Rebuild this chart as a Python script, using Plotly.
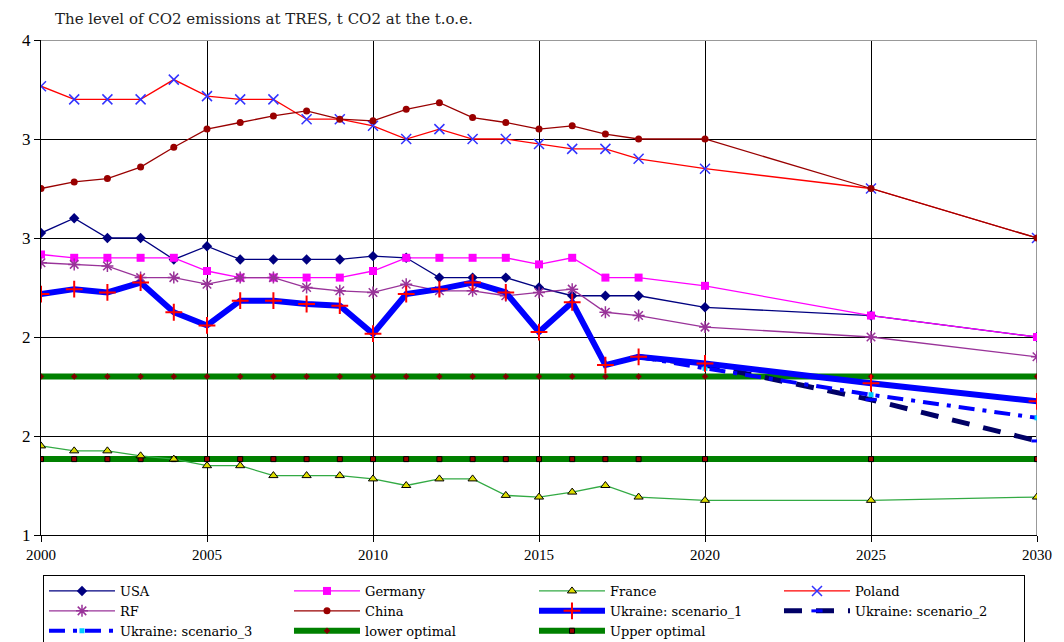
import plotly.graph_objects as go

years = [2000, 2001, 2002, 2003, 2004, 2005, 2006, 2007, 2008, 2009, 2010,
         2011, 2012, 2013, 2014, 2015, 2016, 2017, 2018, 2020, 2025, 2030]

usa = [2.83, 2.92, 2.80, 2.80, 2.67, 2.75, 2.67, 2.67, 2.67, 2.67, 2.69,
       2.68, 2.56, 2.56, 2.56, 2.50, 2.45, 2.45, 2.45, 2.38, 2.33, 2.20]
germany = [2.70, 2.68, 2.68, 2.68, 2.68, 2.60, 2.56, 2.56, 2.56, 2.56, 2.60,
           2.68, 2.68, 2.68, 2.68, 2.64, 2.68, 2.56, 2.56, 2.51, 2.33, 2.20]
france = [1.54, 1.51, 1.51, 1.48, 1.46, 1.42, 1.42, 1.36, 1.36, 1.36, 1.34,
          1.30, 1.34, 1.34, 1.24, 1.23, 1.26, 1.30, 1.23, 1.21, 1.21, 1.23]
poland = [3.72, 3.64, 3.64, 3.64, 3.76, 3.66, 3.64, 3.64, 3.52, 3.52, 3.48,
          3.40, 3.46, 3.40, 3.40, 3.37, 3.34, 3.34, 3.28, 3.22, 3.10, 2.80]
rf = [2.65, 2.64, 2.63, 2.56, 2.56, 2.52, 2.56, 2.56, 2.50, 2.48, 2.47,
      2.52, 2.48, 2.48, 2.45, 2.47, 2.49, 2.35, 2.33, 2.26, 2.20, 2.08]
china = [3.10, 3.14, 3.16, 3.23, 3.35, 3.46, 3.50, 3.54, 3.57, 3.52, 3.51,
         3.58, 3.62, 3.53, 3.50, 3.46, 3.48, 3.43, 3.40, 3.40, 3.10, 2.80]
ukr_s1 = [2.46, 2.49, 2.47, 2.53, 2.35, 2.27, 2.42, 2.42, 2.40, 2.39, 2.22,
          2.46, 2.49, 2.53, 2.47, 2.23, 2.41, 2.03, 2.08, 2.04, 1.92, 1.81]

scen_years = [2018, 2020, 2025, 2030]
ukr_s2 = [2.08, 2.03, 1.82, 1.57]
ukr_s3 = [2.08, 2.01, 1.85, 1.71]

lower_opt = [1.96] * len(years)
upper_opt = [1.46] * len(years)

y_ticks = [1, 1.6, 2.2, 2.8, 3.4, 4]
y_labels = ["1", "2", "2", "3", "3", "4"]

serif = "Liberation Serif"
wide_serif = "DejaVu Serif"

fig = go.Figure()

# optimal bands first so they sit under the country lines
fig.add_trace(go.Scatter(x=years, y=lower_opt, name="lower optimal", mode="lines+markers",
                         line=dict(color="#008000", width=6),
                         marker=dict(symbol="diamond", size=5, color="#800000"),
                         legendrank=10))
fig.add_trace(go.Scatter(x=years, y=upper_opt, name="Upper optimal", mode="lines+markers",
                         line=dict(color="#008000", width=6),
                         marker=dict(symbol="square", size=5, color="#990000",
                                     line=dict(color="black", width=1)),
                         legendrank=11))

fig.add_trace(go.Scatter(x=years, y=usa, name="USA", mode="lines+markers",
                         line=dict(color="#000080", width=1.3),
                         marker=dict(symbol="diamond", size=8, color="#000080"),
                         legendrank=1))
fig.add_trace(go.Scatter(x=years, y=germany, name="Germany", mode="lines+markers",
                         line=dict(color="#FF00FF", width=1.3),
                         marker=dict(symbol="square", size=8, color="#FF00FF"),
                         legendrank=2))
fig.add_trace(go.Scatter(x=years, y=france, name="France", mode="lines+markers",
                         line=dict(color="#33AA44", width=1.3),
                         marker=dict(symbol="triangle-up", size=8, color="#DDDD00",
                                     line=dict(color="black", width=1)),
                         legendrank=3))
fig.add_trace(go.Scatter(x=years, y=poland, name="Poland", mode="lines+markers",
                         line=dict(color="#FF0000", width=1.3),
                         marker=dict(symbol="x-thin", size=10,
                                     line=dict(color="#3333FF", width=1.5)),
                         legendrank=4))
fig.add_trace(go.Scatter(x=years, y=rf, name="RF", mode="lines+markers",
                         line=dict(color="#993399", width=1.3),
                         marker=dict(symbol="asterisk", size=10,
                                     line=dict(color="#993399", width=1.5)),
                         legendrank=5))
fig.add_trace(go.Scatter(x=years, y=china, name="China", mode="lines+markers",
                         line=dict(color="#990000", width=1.3),
                         marker=dict(symbol="circle", size=7, color="#990000"),
                         legendrank=6))
fig.add_trace(go.Scatter(x=scen_years, y=ukr_s2, name="Ukraine: scenario_2", mode="lines+markers",
                         line=dict(color="#000066", width=5, dash="18px,14px"),
                         marker=dict(symbol="line-ew", size=8,
                                     line=dict(color="#0000FF", width=3)),
                         legendrank=8))
fig.add_trace(go.Scatter(x=scen_years, y=ukr_s3, name="Ukraine: scenario_3", mode="lines+markers",
                         line=dict(color="#0000FF", width=4, dash="16px,8px,4px,8px"),
                         marker=dict(symbol="square", size=5, color="#00CCFF"),
                         legendrank=9))
fig.add_trace(go.Scatter(x=years, y=ukr_s1, name="Ukraine: scenario_1", mode="lines+markers",
                         line=dict(color="#0000FF", width=6),
                         marker=dict(symbol="cross-thin", size=12,
                                     line=dict(color="#FF0000", width=2)),
                         legendrank=7))

fig.update_xaxes(range=[2000, 2030], tick0=2000, dtick=5,
                 showgrid=True, gridcolor="black", gridwidth=1,
                 showline=True, linecolor="black", linewidth=1,
                 ticks="outside", ticklen=6, tickcolor="black",
                 tickfont=dict(family=serif, size=15, color="black"),
                 zeroline=False)
fig.update_yaxes(range=[1, 4], tickvals=y_ticks, ticktext=y_labels,
                 showgrid=True, gridcolor="black", gridwidth=1,
                 showline=True, linecolor="black", linewidth=1,
                 ticks="outside", ticklen=6, tickcolor="black",
                 tickfont=dict(family=serif, size=17, color="black"),
                 zeroline=False)

# grey frame on the top and right edges of the plot area
fig.add_shape(type="line", xref="x", yref="y", x0=2000, x1=2030, y0=4, y1=4,
              line=dict(color="#999999", width=2), layer="between")
fig.add_shape(type="line", xref="x", yref="y", x0=2030, x1=2030, y0=1, y1=4,
              line=dict(color="#999999", width=2), layer="between")

# the page body has an 8px margin, so the figure is sized and offset to match
fig.update_layout(
    width=1056, height=634,
    margin=dict(l=33, r=23, t=32, b=104),
    paper_bgcolor="white", plot_bgcolor="white",
    font=dict(family=serif, size=15, color="black"),
    title=dict(text="The level of CO2 emissions at TRES, t CO2 at the t.o.e.",
               x=47 / 1056, xanchor="left", y=1 - 11 / 634, yanchor="middle",
               font=dict(family=wide_serif, size=15, color="#222222")),
    legend=dict(orientation="h", x=0.002, xanchor="left",
                yref="container", y=(634 - 567) / 634, yanchor="top",
                entrywidth=164, entrywidthmode="pixels",
                bordercolor="black", borderwidth=1, bgcolor="white",
                font=dict(family=wide_serif, size=13), itemwidth=66,
                tracegroupgap=0),
    showlegend=True,
)

fig.write_html("out.html")
